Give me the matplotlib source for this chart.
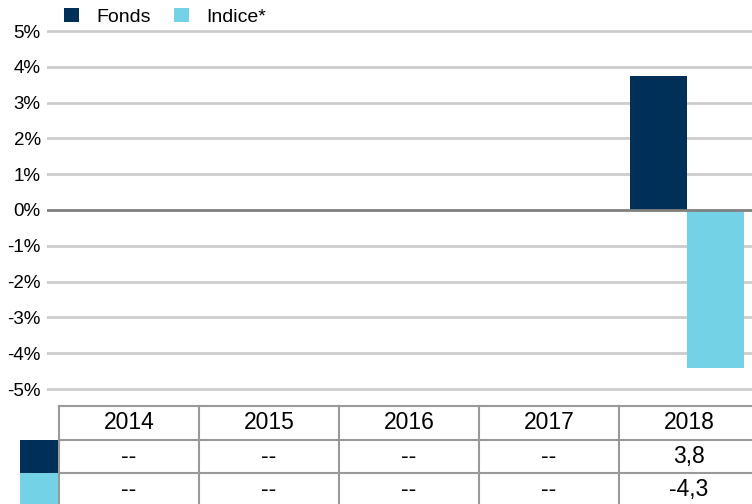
import matplotlib
matplotlib.use("Agg")
import matplotlib.pyplot as plt
from matplotlib.patches import Rectangle

plt.rcParams['font.family'] = ['Liberation Sans', 'DejaVu Sans']

years = ["2014", "2015", "2016", "2017", "2018"]
fonds = [0.0, 0.0, 0.0, 0.0, 3.75]
indice = [0.0, 0.0, 0.0, 0.0, -4.4]
fonds_labels = ["--", "--", "--", "--", "3,8"]
indice_labels = ["--", "--", "--", "--", "-4,3"]
series_names = ["Fonds", "Indice*"]
yticks = [-5, -4, -3, -2, -1, 0, 1, 2, 3, 4, 5]

c_fonds = "#003057"
c_indice = "#74D2E7"
grid_c = "#cccccc"
border_c = "#999999"

W, H = 752, 504
fig = plt.figure(figsize=(W / 100, H / 100), dpi=100)

# main axes: category spacing 140px, first center at x=129px
cat_w = 140.0
c0 = 129.0
ax_left, ax_right = 47.0, 752.0
ppu = 35.8
y_top_px, y_bot_px = 31.0, 389.0
m = 0.15
ax = fig.add_axes([ax_left / W, (H - y_bot_px - m * ppu) / H,
                   (ax_right - ax_left) / W, (y_bot_px - y_top_px + 2 * m * ppu) / H])
ax.set_xlim((ax_left - c0) / cat_w, (ax_right - c0) / cat_w)
ax.set_ylim(-5 - m, 5 + m)
for s in ax.spines.values():
    s.set_visible(False)
ax.set_xticks([])
ax.set_yticks(yticks)
ax.set_yticklabels([f"{t}%" for t in yticks], fontsize=13.5)
ax.tick_params(axis='y', length=0, pad=4.5)
for t in yticks:
    if t != 0:
        ax.axhline(t, color=grid_c, lw=2, zorder=0)

x = list(range(len(years)))
bw = 57 / cat_w
off = -2 / cat_w
ax.bar([i - bw / 2 + off for i in x], fonds, width=bw, color=c_fonds, zorder=2, label=series_names[0])
ax.bar([i + bw / 2 + off for i in x], indice, width=bw, color=c_indice, zorder=2, label=series_names[1])
ax.axhline(0, color="#808080", lw=2, zorder=3)

# legend
leg = fig.legend(loc='upper left', bbox_to_anchor=(58.5 / W, 1 - 2 / H), ncol=2, frameon=False,
                 fontsize=14, handlelength=0.77, handleheight=0.77, handletextpad=0.9,
                 columnspacing=1.15, borderaxespad=0, borderpad=0.3)

# table axes
tab_top_px = 406.0
row_h = 33.5
tax = fig.add_axes([0, 0, 1, (H - tab_top_px) / H])
tax.set_xlim((0 - c0) / cat_w, (W - c0) / cat_w)
tax.set_ylim(-(H - tab_top_px) / row_h, 0)
tax.axis('off')

left_edge = -0.5
right_edge = len(years) - 0.5
lw = 1.5
# horizontal lines
tax.plot([left_edge, right_edge], [0, 0], color=border_c, lw=lw, clip_on=False)
tax.plot([left_edge, right_edge], [-1, -1], color=border_c, lw=lw)
tax.plot([left_edge, right_edge], [-2, -2], color=border_c, lw=lw)
tax.plot([left_edge, right_edge], [-3, -3], color=border_c, lw=lw)
for i in range(len(years) + 1):
    xx = left_edge + i
    tax.plot([xx, xx], [0, -3.2], color=border_c, lw=lw, clip_on=True)

# legend swatches in table
sw_w = 39 / cat_w
tax.add_patch(Rectangle((left_edge - sw_w, -2), sw_w, 1, color=c_fonds, lw=0))
tax.add_patch(Rectangle((left_edge - sw_w, -3), sw_w, 1, color=c_indice, lw=0))

for i, yr in enumerate(years):
    tax.text(i, -0.5, yr, ha='center', va='center', fontsize=16.5)
    tax.text(i, -1.5, fonds_labels[i], ha='center', va='center', fontsize=16.5)
    tax.text(i, -2.5, indice_labels[i], ha='center', va='center', fontsize=16.5)

fig.savefig("out.png", dpi=100)
